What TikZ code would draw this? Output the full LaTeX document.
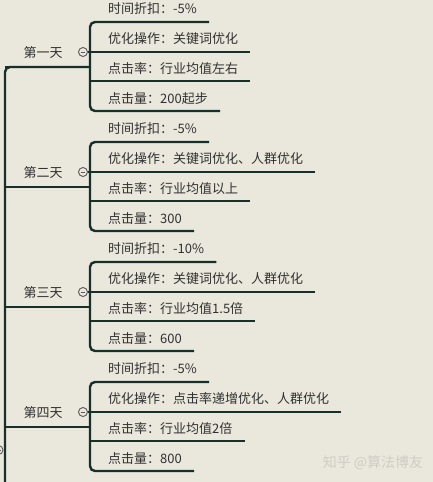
\documentclass[tikz,border=0pt]{standalone}
\usepackage{fontspec}
\setmainfont{Noto Sans CJK SC}
\usetikzlibrary{calc}
\definecolor{bg}{HTML}{EAE8DC}
\definecolor{lnc}{HTML}{17302A}
\definecolor{txt}{HTML}{303030}
\definecolor{btnc}{HTML}{5A5A5A}
\definecolor{wm}{HTML}{CFCDC4}
\begin{document}
\begin{tikzpicture}[x=1pt,y=-1pt,
  ln/.style={draw=lnc,line width=2.4pt},
  daylbl/.style={inner sep=0pt,text=txt,font=\fontsize{13pt}{15pt}\selectfont},
  leaf/.style={inner sep=0pt,anchor=west,text=txt,font=\fontsize{13pt}{15pt}\selectfont},
  btn/.style={circle,draw=btnc,fill=bg,line width=0.9pt,minimum size=9pt,inner sep=0pt},
  wmark/.style={inner sep=0pt,text=wm,font=\fontsize{14pt}{16pt}\selectfont}]
\fill[bg] (0,0) rectangle (433,482);
\useasboundingbox (0,0) rectangle (433,482);
\coordinate (tbot) at (5,482);
\foreach \i/\dn/\ta/\tb/\tc/\tdd in {
 1/第一天/时间折扣：-5\%/优化操作：关键词优化/点击率：行业均值左右/点击量：200起步,
 2/第二天/时间折扣：-5\%/优化操作：关键词优化、人群优化/点击率：行业均值以上/点击量：300,
 3/第三天/时间折扣：-10\%/优化操作：关键词优化、人群优化/点击率：行业均值1.5倍/点击量：600,
 4/第四天/时间折扣：-5\%/优化操作：点击率递增优化、人群优化/点击率：行业均值2倍/点击量：800}
{
  \pgfmathsetmacro\off{(\i-1)*120}
  \coordinate (ja\i) at (90,22+\off);
  \coordinate (jb\i) at (90,52+\off);
  \coordinate (jc\i) at (90,81+\off);
  \coordinate (je\i) at (90,111+\off);
  \coordinate (t\i) at (5,67+\off);
  \coordinate (u\i) at (90,67+\off);
  \node[daylbl] (day\i) at (43,53+\off) {\dn};
  \node[leaf] (a\i) at ($(ja\i)+(18,-13)$) {\ta};
  \node[leaf] (b\i) at ($(jb\i)+(18,-13)$) {\tb};
  \node[leaf] (c\i) at ($(jc\i)+(18,-12)$) {\tc};
  \node[leaf] (e\i) at ($(je\i)+(18,-12)$) {\tdd};
  \coordinate (ea\i) at ($(a\i.east)+(12,13)$);
  \coordinate (eb\i) at ($(b\i.east)+(12,13)$);
  \coordinate (ec\i) at ($(c\i.east)+(12,12)$);
  \coordinate (ee\i) at ($(e\i.east)+(12,12)$);
  \draw[ln,rounded corners=5pt] (ea\i) -- (ja\i) -- (je\i) -- (ee\i);
  \draw[ln] (jc\i) -- (ec\i);
  \draw[ln] (t\i) -- (u\i);
  \node[btn] (btn\i) at (83,52+\off) {};
  \draw[ln] (btn\i.east) -- (jb\i) -- (eb\i);
  \draw[btnc,line width=0.9pt] ($(btn\i)+(-2.3,0)$) -- ($(btn\i)+(2.3,0)$);
}
\draw[ln,rounded corners=5pt] (u1) -- (t1) -- (tbot);
\node[btn] (root) at (-1.5,450) {};
\draw[btnc,line width=0.9pt] ($(root)+(-2.3,0)$) -- ($(root)+(2.3,0)$);
\node[wmark] (wm) at (373,463) {知乎 @算法博友};
\end{tikzpicture}
\end{document}
